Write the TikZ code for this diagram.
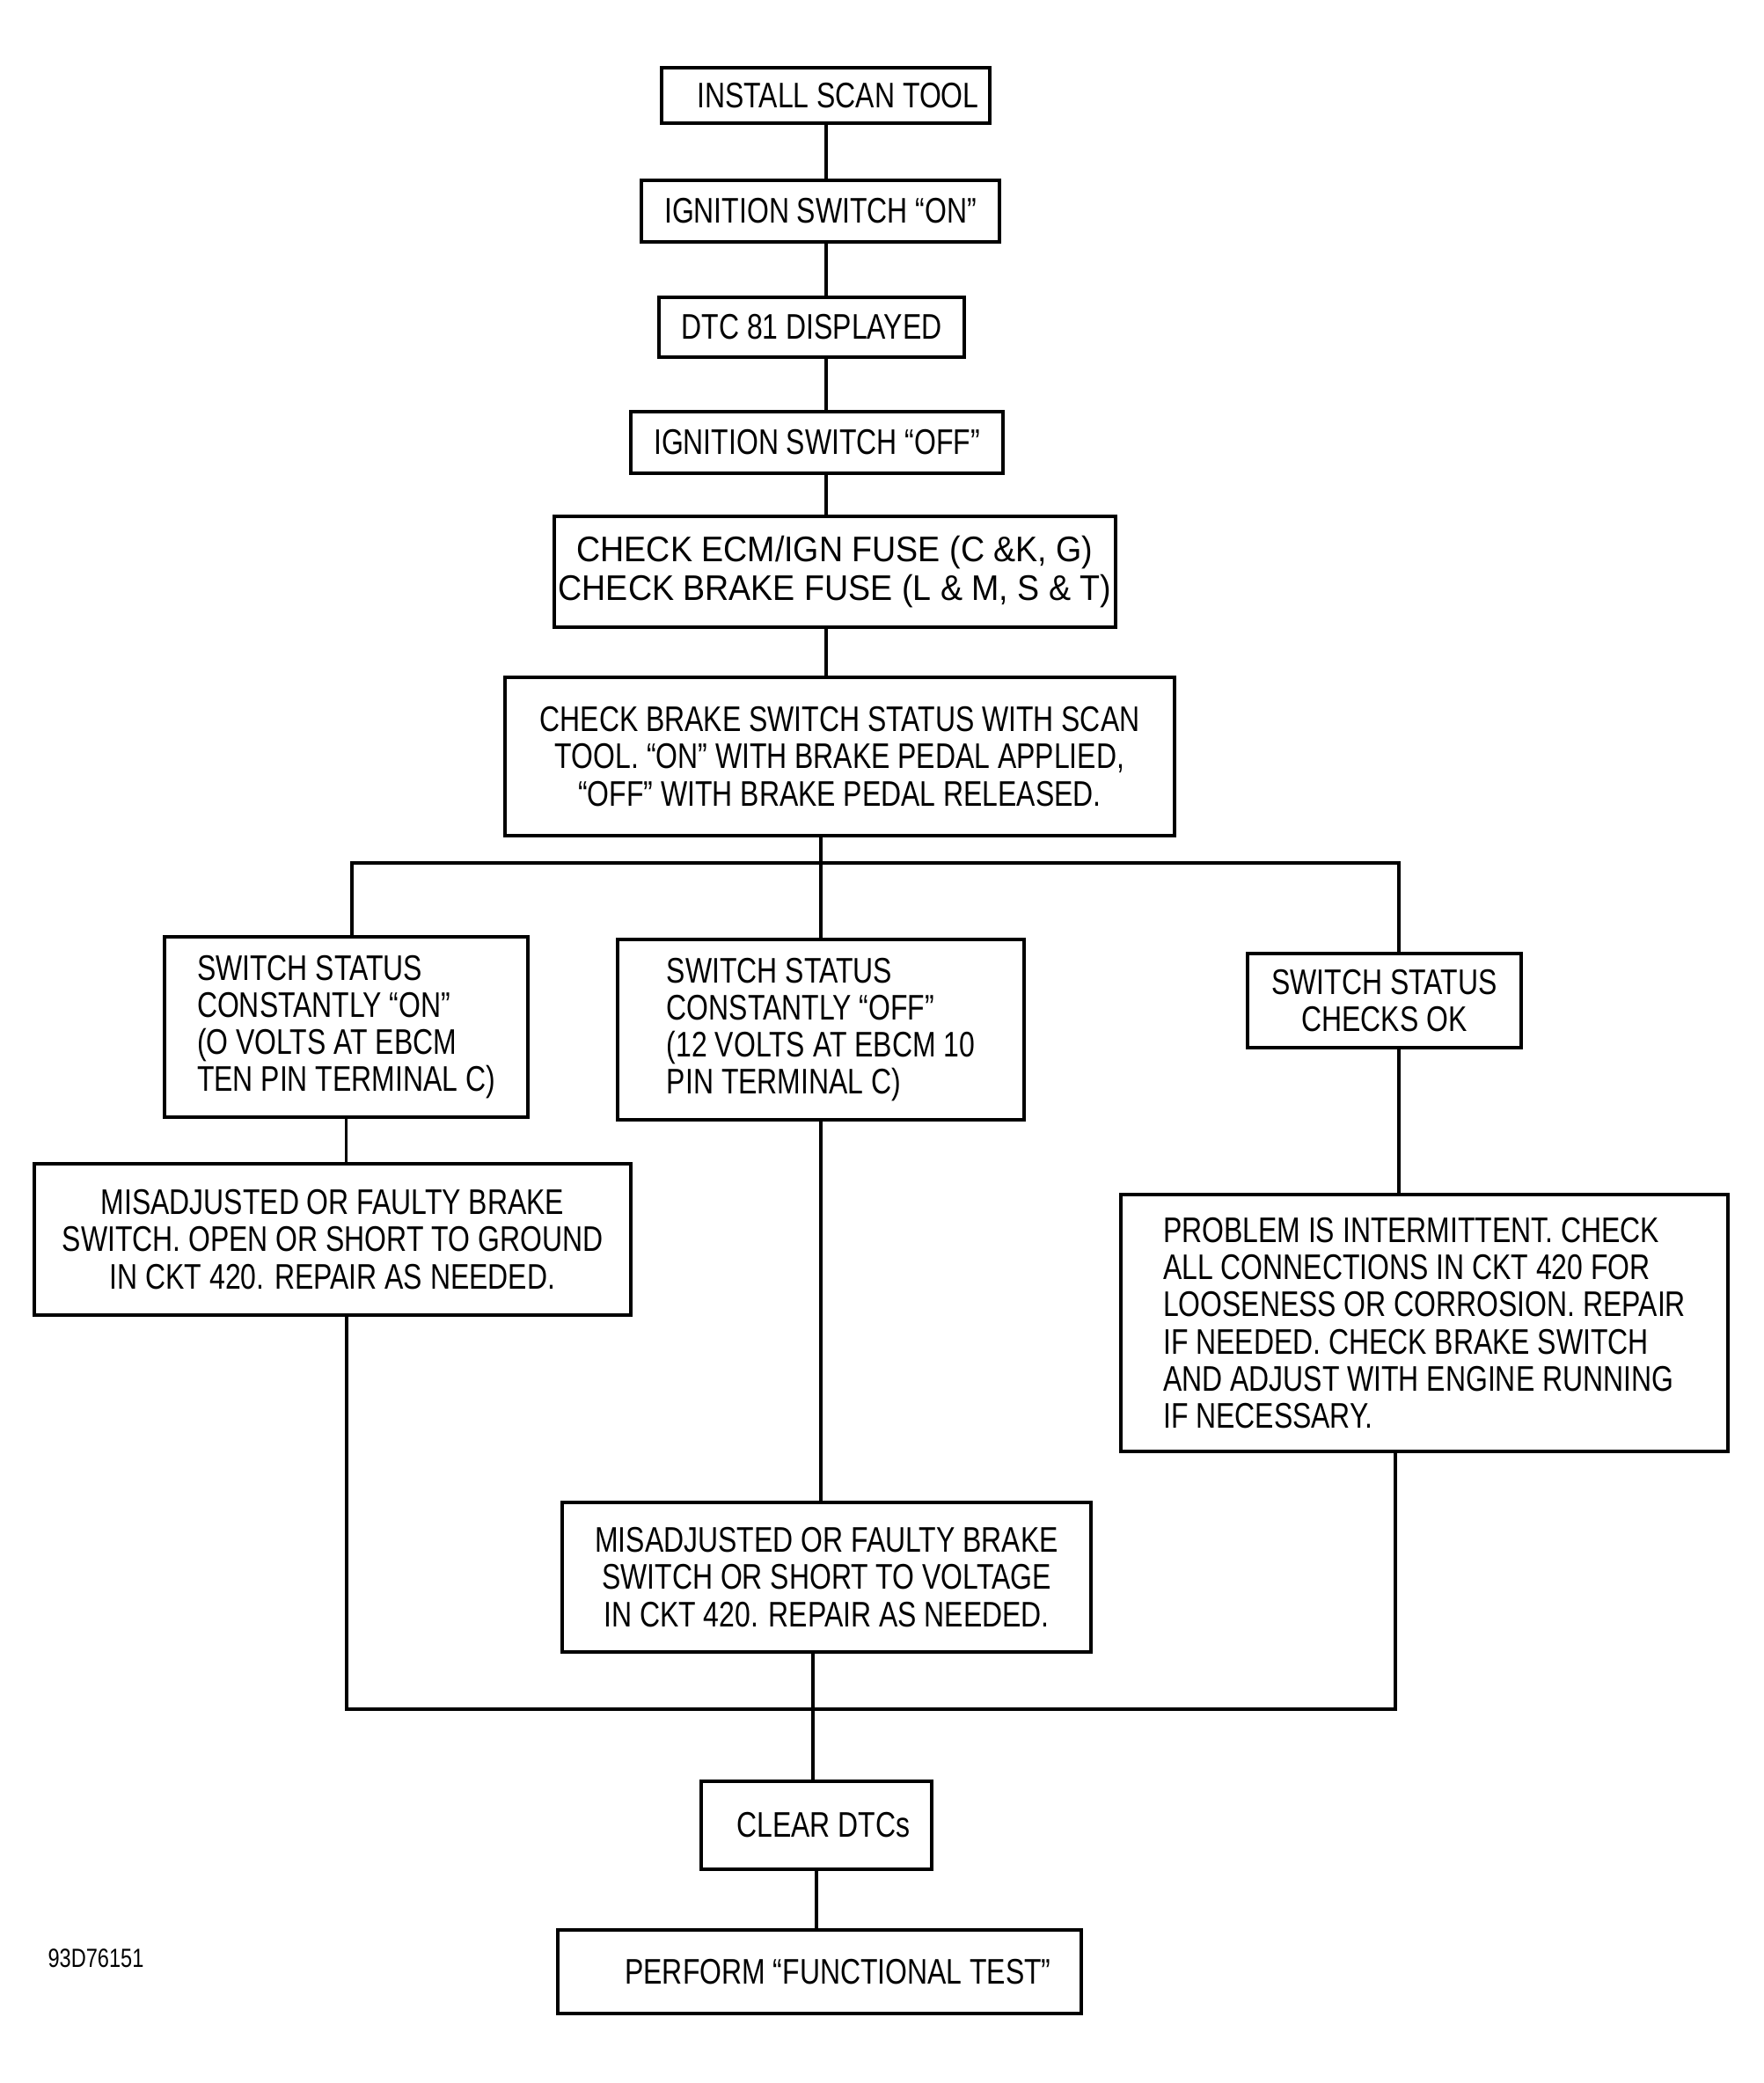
\documentclass[tikz,border=0pt]{standalone}
\usepackage{fontspec}
\usepackage{xcolor}
\usepackage{tikz}
\usetikzlibrary{calc}
\newfontfamily\flowfont{Liberation Sans}[FakeStretch=0.79]
\newfontfamily\fusefont{Liberation Sans}[FakeStretch=0.93]
\definecolor{ink}{HTML}{000000}
\tikzset{
  box/.style={draw=ink, line width=1.1pt, inner sep=0pt, align=center, text=ink,
    font=\flowfont\fontsize{11.5}{12}\selectfont},
  boxl/.style={box, align=left},
  wire/.style={draw=ink, line width=1.0pt},
  tag/.style={text=ink, font=\flowfont\fontsize{8.5}{9}\selectfont},
}

\begin{document}
\begin{tikzpicture}
  \useasboundingbox (0,0) rectangle (20.04,-23.68);
  % main chain
  \node[box, minimum width=3.73cm, minimum height=0.63cm] (install) at (9.385,-1.085) {\hspace*{0.28cm}INSTALL SCAN TOOL};
  \node[box, minimum width=4.07cm, minimum height=0.70cm] (ignon) at (9.325,-2.40) {IGNITION SWITCH “ON”};
  \node[box, minimum width=3.47cm, minimum height=0.68cm] (dtc) at (9.225,-3.72) {DTC 81 DISPLAYED};
  \node[box, minimum width=4.23cm, minimum height=0.70cm] (ignoff) at (9.285,-5.03) {IGNITION SWITCH “OFF”};
  \node[box, minimum width=6.38cm, minimum height=1.26cm, font=\fusefont\fontsize{11.5}{12.5}\selectfont] (fuse) at (9.49,-6.50)
    {CHECK ECM/IGN FUSE (C \&K, G)\\CHECK BRAKE FUSE (L \& M, S \& T)};
  \node[box, minimum width=7.61cm, minimum height=1.80cm] (check) at (9.545,-8.60)
    {CHECK BRAKE SWITCH STATUS WITH SCAN\\TOOL. “ON” WITH BRAKE PEDAL APPLIED,\\“OFF” WITH BRAKE PEDAL RELEASED.};
  % three branches
  \node[boxl, minimum width=4.13cm, minimum height=2.05cm] (swon) at (3.935,-11.675)
    {SWITCH STATUS\\CONSTANTLY “ON”\\(O VOLTS AT EBCM\\TEN PIN TERMINAL C)};
  \node[boxl, minimum width=4.62cm, minimum height=2.05cm] (swoff) at (9.33,-11.705)
    {SWITCH STATUS\\CONSTANTLY “OFF”\\(12 VOLTS AT EBCM 10\\PIN TERMINAL C)};
  \node[box, minimum width=3.11cm, minimum height=1.07cm] (swok) at (15.735,-11.375)
    {SWITCH STATUS\\CHECKS OK};
  \node[box, minimum width=6.78cm, minimum height=1.72cm] (fixon) at (3.78,-14.09)
    {MISADJUSTED OR FAULTY BRAKE\\SWITCH. OPEN OR SHORT TO GROUND\\IN CKT 420. REPAIR AS NEEDED.};
  \node[boxl, minimum width=6.90cm, minimum height=2.92cm] (intermit) at (16.19,-15.04)
    {PROBLEM IS INTERMITTENT. CHECK\\ALL CONNECTIONS IN CKT 420 FOR\\LOOSENESS OR CORROSION. REPAIR\\IF NEEDED. CHECK BRAKE SWITCH\\AND ADJUST WITH ENGINE RUNNING\\IF NECESSARY.};
  \node[box, minimum width=6.01cm, minimum height=1.70cm] (fixoff) at (9.395,-17.93)
    {MISADJUSTED OR FAULTY BRAKE\\SWITCH OR SHORT TO VOLTAGE\\IN CKT 420. REPAIR AS NEEDED.};
  % end
  \node[box, minimum width=2.62cm, minimum height=1.00cm] (clear) at (9.28,-20.75) {\hspace*{0.16cm}CLEAR DTCs};
  \node[box, minimum width=5.95cm, minimum height=0.95cm] (functest) at (9.315,-22.415) {\hspace*{0.42cm}PERFORM “FUNCTIONAL TEST”};
  \node[tag] (code) at (1.09,-22.26) {93D76151};

  \coordinate (spine) at (9.39,0);
  \coordinate (splitL) at (4.00,-9.81);
  \coordinate (splitM) at (9.33,-9.81);
  \coordinate (splitR) at (15.90,-9.81);
  \coordinate (joinL) at (3.94,-19.43);
  \coordinate (joinM) at (9.24,-19.43);
  \coordinate (joinR) at (15.86,-19.43);

  \draw[wire] (spine |- install.south) -- (spine |- ignon.north);
  \draw[wire] (spine |- ignon.south) -- (spine |- dtc.north);
  \draw[wire] (spine |- dtc.south) -- (spine |- ignoff.north);
  \draw[wire] (spine |- ignoff.south) -- (spine |- fuse.north);
  \draw[wire] (spine |- fuse.south) -- (spine |- check.north);
  \draw[wire] (splitM |- check.south) -- (splitM |- swoff.north);
  \draw[wire] (splitL |- swon.north) -- (splitL) -- (splitR) -- (splitR |- swok.north);
  \draw[wire] (swon.south) -- (swon.south |- fixon.north);
  \draw[wire] (splitM |- swoff.south) -- (splitM |- fixoff.north);
  \draw[wire] (splitR |- swok.south) -- (splitR |- intermit.north);
  \draw[wire] (joinL |- fixon.south) -- (joinL) -- (joinR) -- (joinR |- intermit.south);
  \draw[wire] (joinM |- fixoff.south) -- (joinM |- clear.north);
  \draw[wire] (clear.south) -- (clear.south |- functest.north);
\end{tikzpicture}
\end{document}
